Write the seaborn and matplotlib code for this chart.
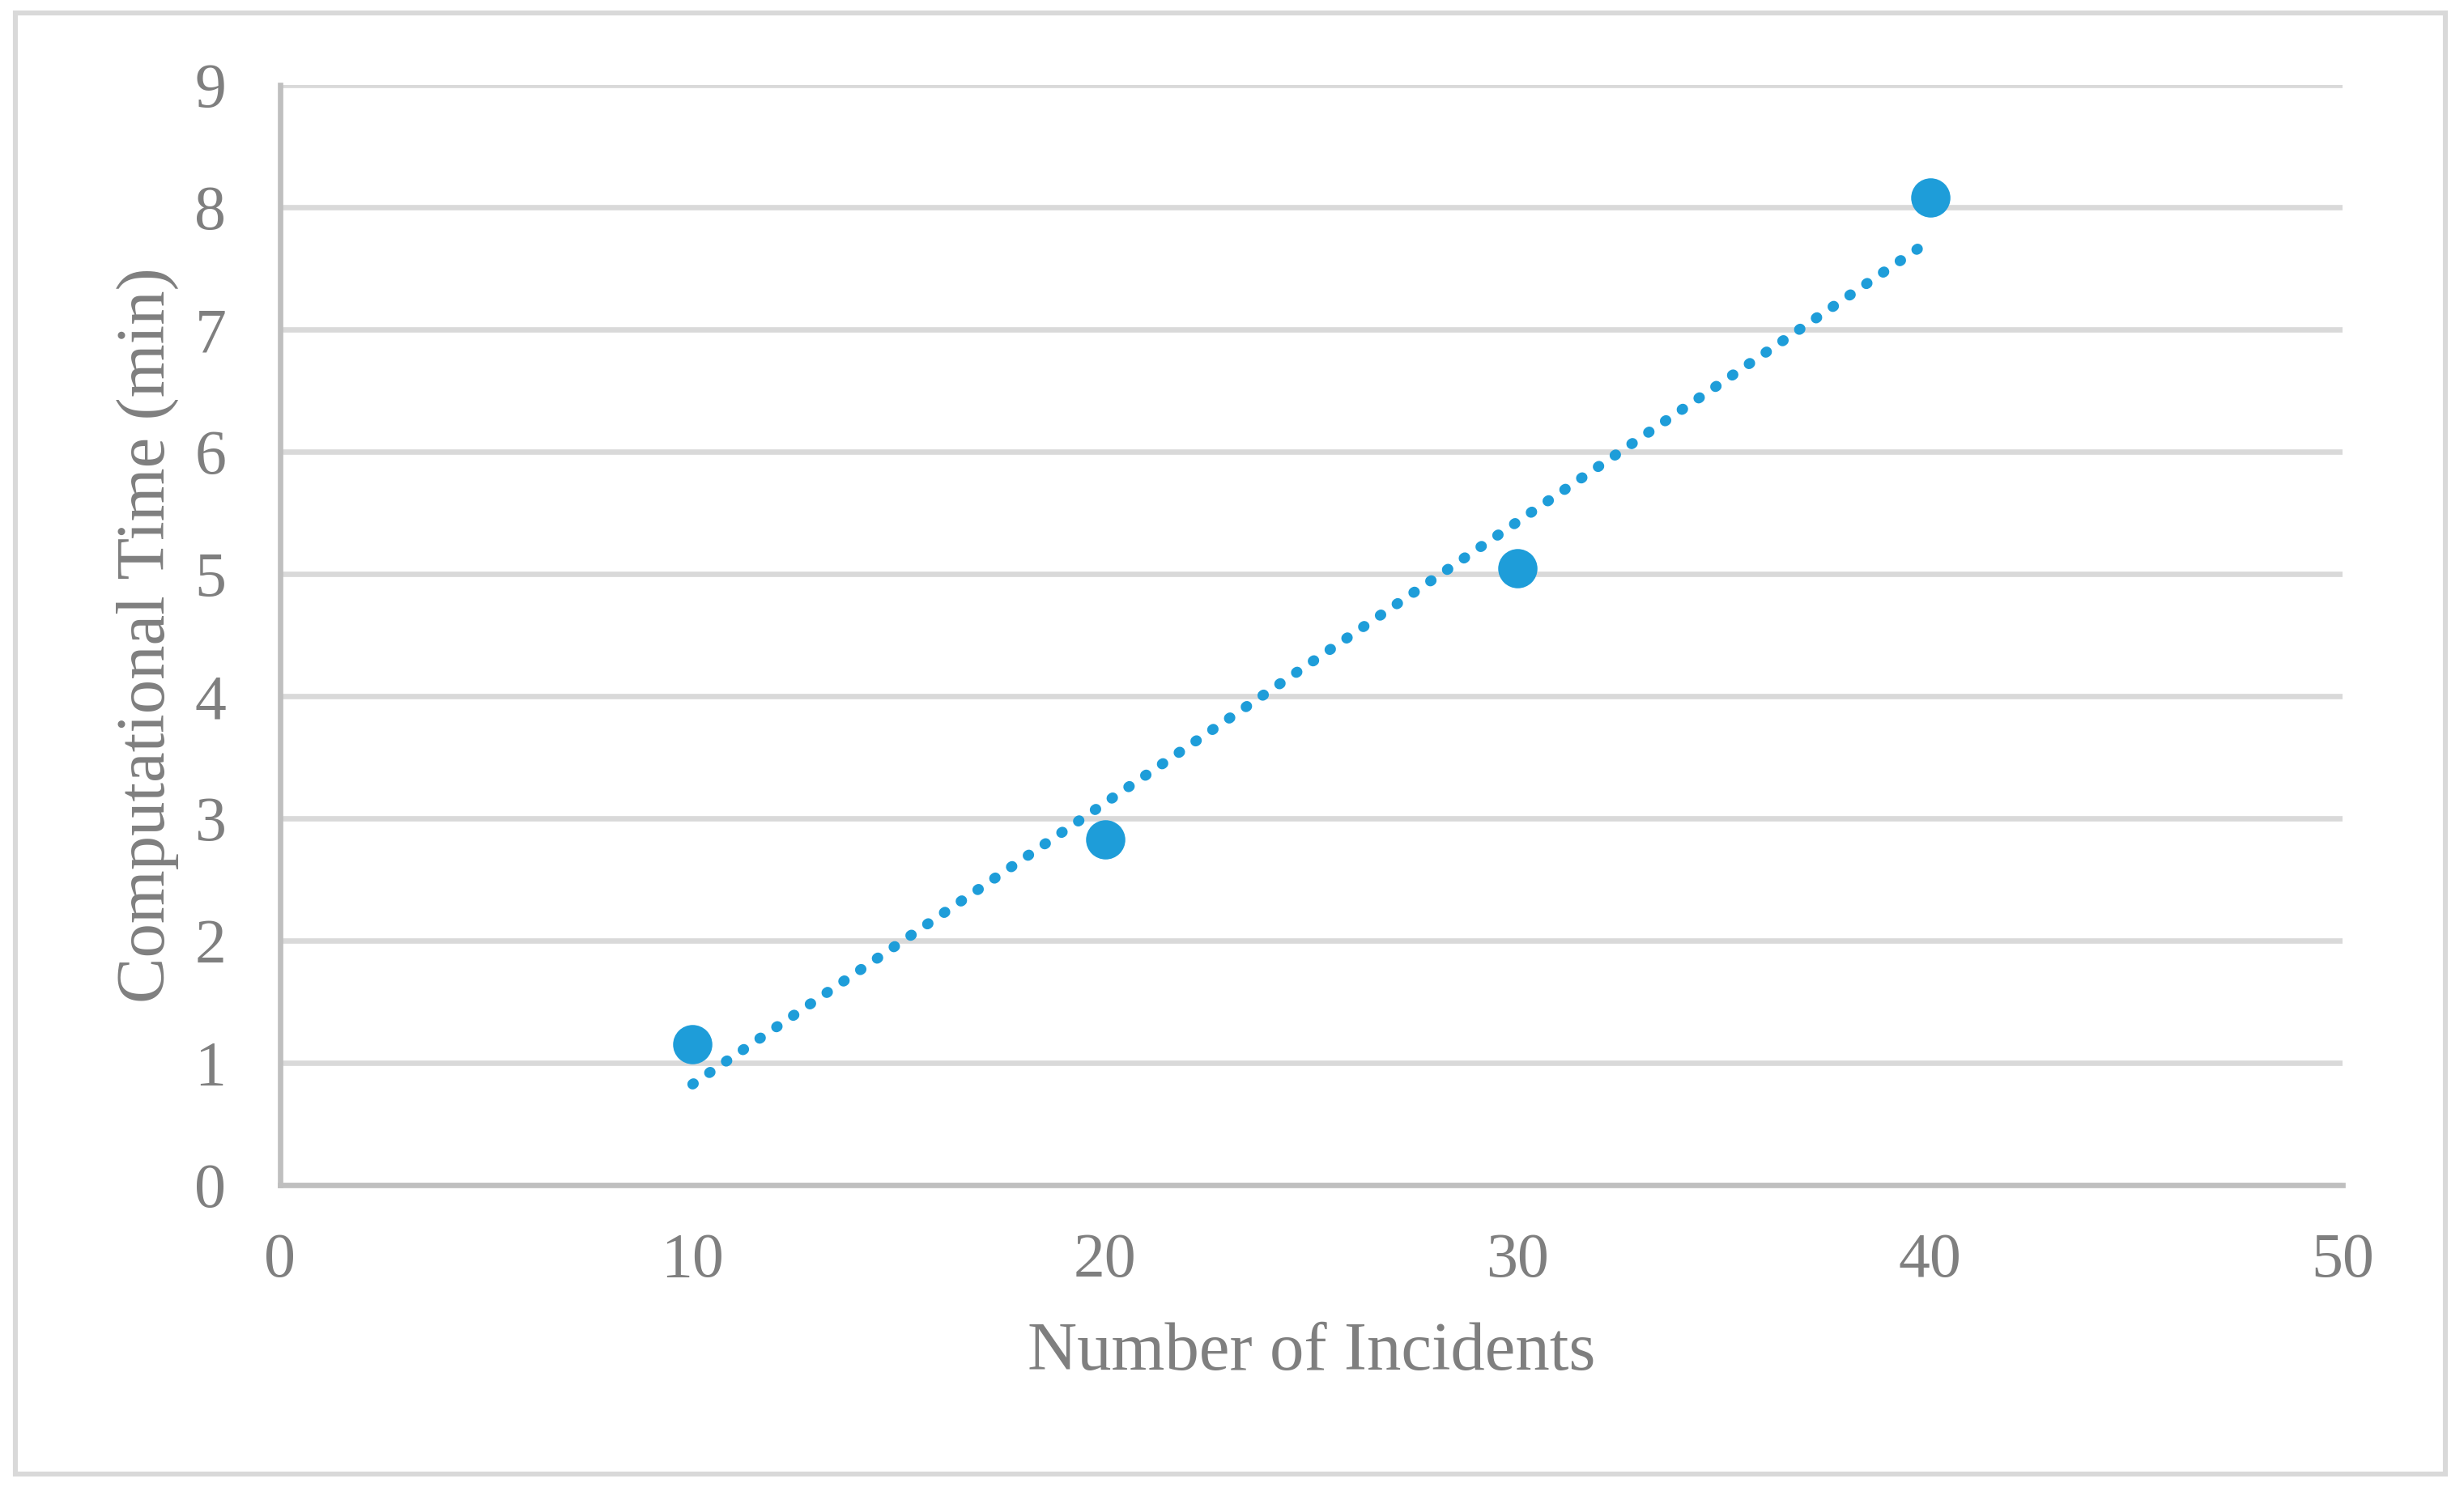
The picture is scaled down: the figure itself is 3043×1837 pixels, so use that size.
import matplotlib
matplotlib.use("Agg")
import matplotlib.pyplot as plt
import seaborn as sns
import numpy as np
from matplotlib.patches import Rectangle

# data
incidents = [10, 20, 30, 40]
comp_time = [1.15, 2.83, 5.05, 8.08]
x_ticks = [0, 10, 20, 30, 40, 50]
y_ticks = [0, 1, 2, 3, 4, 5, 6, 7, 8, 9]

blue = "#1e9dd9"
gray_txt = "#7f7f7f"
grid_col = "#d9d9d9"
axis_col = "#bfbfbf"

sns.set_theme(style="white")
plt.rcParams['font.family'] = ['Liberation Serif', 'DejaVu Serif']

fig = plt.figure(figsize=(3043 / 200, 1837 / 200), dpi=200)
ax = fig.add_axes([0.1137, 0.2030, 0.8370, 0.7398])

sns.regplot(x=incidents, y=comp_time, ci=None, ax=ax,
            scatter_kws=dict(s=305, color=blue, linewidths=0, alpha=1, zorder=4),
            line_kws=dict(color=blue, lw=4.7, linestyle=(0, (0.1, 1.82)),
                          dash_capstyle='round', zorder=3))

ax.set_xlim(0, 50)
ax.set_ylim(0, 9)
ax.set_xticks(x_ticks)
ax.set_yticks(y_ticks)

ax.yaxis.grid(True, color=grid_col, lw=2.4)
ax.xaxis.grid(False)
ax.set_axisbelow(True)

for s in ['top', 'right']:
    ax.spines[s].set_visible(False)
for s in ['left', 'bottom']:
    ax.spines[s].set_color(axis_col)
    ax.spines[s].set_linewidth(2.4)

ax.tick_params(axis='both', length=0, labelsize=28, labelcolor=gray_txt)
ax.tick_params(axis='x', pad=21)
ax.tick_params(axis='y', pad=24)

ax.set_xlabel("Number of Incidents", fontsize=30.5, color=gray_txt, labelpad=14)
ax.set_ylabel("Computational Time (min)", fontsize=30.5, color=gray_txt, labelpad=7)

# light frame around the whole chart
fig.patches.append(Rectangle((0.0064, 0.0087), 0.986, 0.9826, transform=fig.transFigure,
                             fill=False, edgecolor=grid_col, lw=2.2))

fig.savefig("out.png", dpi=200, facecolor="white")
